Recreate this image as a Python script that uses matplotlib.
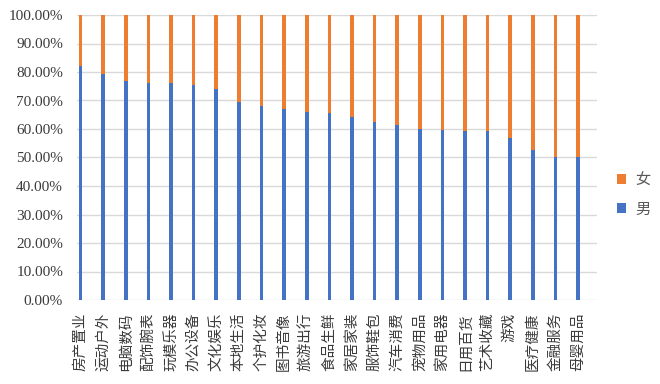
import matplotlib.pyplot as plt
import numpy as np
from matplotlib.ticker import MultipleLocator, FuncFormatter

plt.rcParams["font.family"] = ["Liberation Serif", "Noto Sans CJK SC", "DejaVu Sans"]
plt.rcParams["font.size"] = 10.5

categories = [
    "房产置业", "运动户外", "电脑数码", "配饰腕表", "玩模乐器", "办公设备",
    "文化娱乐", "本地生活", "个护化妆", "图书音像", "旅游出行", "食品生鲜",
    "家居家装", "服饰鞋包", "汽车消费", "宠物用品", "家用电器", "日用百货",
    "艺术收藏", "游戏", "医疗健康", "金融服务", "母婴用品",
]

male = [
    0.821, 0.794, 0.770, 0.761, 0.761, 0.753, 0.739, 0.696, 0.681, 0.669,
    0.660, 0.656, 0.643, 0.623, 0.613, 0.599, 0.596, 0.593, 0.593, 0.568,
    0.526, 0.501, 0.501,
]

female = [
    0.179, 0.206, 0.230, 0.239, 0.239, 0.247, 0.261, 0.304, 0.319, 0.331,
    0.340, 0.344, 0.357, 0.377, 0.387, 0.401, 0.404, 0.407, 0.407, 0.432,
    0.474, 0.499, 0.499,
]

blue = "#4472C4"
orange = "#ED7D31"
text_color = "#3A3A3A"

fig, ax = plt.subplots(figsize=(6.6, 3.84), dpi=100)
fig.subplots_adjust(left=77 / 660, right=597 / 660, top=1 - 15 / 384, bottom=1 - 300 / 384)

x = np.arange(len(categories))
ax.bar(x, male, width=0.16, color=blue, label="男", zorder=3)
ax.bar(x, female, bottom=male, width=0.16, color=orange, label="女", zorder=3)

ax.set_ylim(0, 1)
ax.set_xlim(-0.16, len(categories) - 0.16)
ax.yaxis.set_major_locator(MultipleLocator(0.1))
ax.yaxis.set_major_formatter(FuncFormatter(lambda v, p: f"{v * 100:.2f}%"))
ax.grid(axis="y", color="#D9D9D9", linewidth=1, zorder=0)
for s in ax.spines.values():
    s.set_visible(False)
ax.tick_params(length=0, colors=text_color)
ax.tick_params(axis="y", pad=10, labelsize=11)
ax.tick_params(axis="x", pad=9, labelsize=10.5)

ax.set_xticks(x)
ax.set_xticklabels(categories, rotation=90)

handles, labels = ax.get_legend_handles_labels()
fig.legend(
    handles[::-1], labels[::-1],
    loc="center left",
    bbox_to_anchor=(603 / 660, 1 - 195 / 384),
    frameon=False,
    handlelength=0.6,
    handleheight=0.6,
    handletextpad=0.6,
    labelspacing=1.05,
    fontsize=11,
    labelcolor="#595959",
)

plt.savefig("out.png", dpi=100)
plt.close()
